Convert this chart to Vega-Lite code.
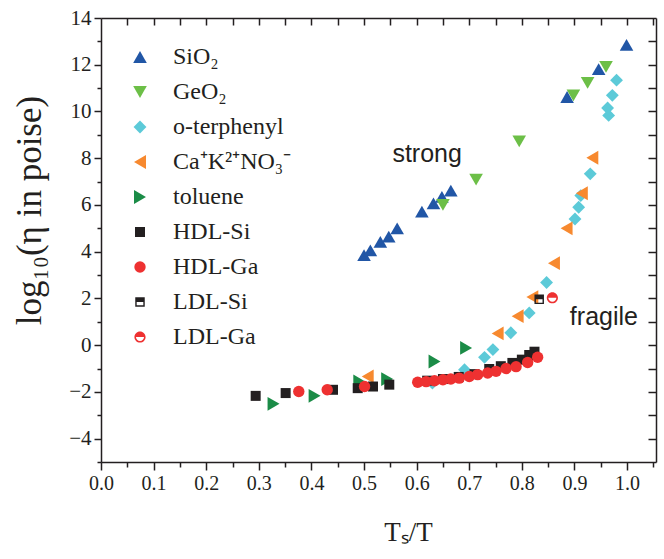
{
  "$schema": "https://vega.github.io/schema/vega-lite/v6.json",
  "autosize": {"type": "none"},
  "padding": {"left": 101, "top": 18, "right": 8, "bottom": 97},
  "width": 555,
  "height": 444,
  "background": "white",
  "config": {
    "view": {"stroke": null},
    "axis": {"grid": false, "domainColor": "#231f20", "tickColor": "#231f20", "labelColor": "#231f20", "titleColor": "#231f20", "labelFont": "Liberation Serif", "titleFont": "Liberation Serif", "titleFontWeight": "normal", "domainWidth": 1.5, "tickWidth": 1.5}
  },
  "datasets": {
    "pts": [
      {"s": "toluene", "x": 0.328, "y": -2.51},
      {"s": "toluene", "x": 0.406, "y": -2.17},
      {"s": "toluene", "x": 0.491, "y": -1.55},
      {"s": "toluene", "x": 0.544, "y": -1.45},
      {"s": "toluene", "x": 0.634, "y": -0.70},
      {"s": "toluene", "x": 0.694, "y": -0.12},
      {"s": "SiO₂", "x": 0.500, "y": 3.85},
      {"s": "SiO₂", "x": 0.512, "y": 4.06},
      {"s": "SiO₂", "x": 0.531, "y": 4.42},
      {"s": "SiO₂", "x": 0.547, "y": 4.64},
      {"s": "SiO₂", "x": 0.563, "y": 5.00},
      {"s": "SiO₂", "x": 0.610, "y": 5.71},
      {"s": "SiO₂", "x": 0.632, "y": 6.07},
      {"s": "SiO₂", "x": 0.648, "y": 6.35},
      {"s": "SiO₂", "x": 0.665, "y": 6.61},
      {"s": "SiO₂", "x": 0.886, "y": 10.62},
      {"s": "SiO₂", "x": 0.946, "y": 11.81},
      {"s": "SiO₂", "x": 0.999, "y": 12.85},
      {"s": "GeO₂", "x": 0.650, "y": 6.0},
      {"s": "GeO₂", "x": 0.713, "y": 7.08},
      {"s": "GeO₂", "x": 0.795, "y": 8.72},
      {"s": "GeO₂", "x": 0.898, "y": 10.69},
      {"s": "GeO₂", "x": 0.925, "y": 11.22},
      {"s": "GeO₂", "x": 0.960, "y": 11.91},
      {"s": "o-terphenyl", "x": 0.630, "y": -1.62},
      {"s": "o-terphenyl", "x": 0.691, "y": -1.05},
      {"s": "o-terphenyl", "x": 0.729, "y": -0.52},
      {"s": "o-terphenyl", "x": 0.745, "y": -0.19},
      {"s": "o-terphenyl", "x": 0.779, "y": 0.53},
      {"s": "o-terphenyl", "x": 0.814, "y": 1.38},
      {"s": "o-terphenyl", "x": 0.847, "y": 2.68},
      {"s": "o-terphenyl", "x": 0.901, "y": 5.40},
      {"s": "o-terphenyl", "x": 0.908, "y": 5.90},
      {"s": "o-terphenyl", "x": 0.912, "y": 6.40},
      {"s": "o-terphenyl", "x": 0.930, "y": 7.33},
      {"s": "o-terphenyl", "x": 0.965, "y": 9.83},
      {"s": "o-terphenyl", "x": 0.963, "y": 10.15},
      {"s": "o-terphenyl", "x": 0.972, "y": 10.69},
      {"s": "o-terphenyl", "x": 0.980, "y": 11.34},
      {"s": "Ca⁺K²⁺NO₃⁻", "x": 0.507, "y": -1.34},
      {"s": "Ca⁺K²⁺NO₃⁻", "x": 0.754, "y": 0.50},
      {"s": "Ca⁺K²⁺NO₃⁻", "x": 0.792, "y": 1.24},
      {"s": "Ca⁺K²⁺NO₃⁻", "x": 0.820, "y": 2.06},
      {"s": "Ca⁺K²⁺NO₃⁻", "x": 0.861, "y": 3.51},
      {"s": "Ca⁺K²⁺NO₃⁻", "x": 0.885, "y": 5.00},
      {"s": "Ca⁺K²⁺NO₃⁻", "x": 0.914, "y": 6.50},
      {"s": "Ca⁺K²⁺NO₃⁻", "x": 0.934, "y": 8.02},
      {"s": "HDL-Si", "x": 0.294, "y": -2.17},
      {"s": "HDL-Si", "x": 0.351, "y": -2.05},
      {"s": "HDL-Si", "x": 0.441, "y": -1.91},
      {"s": "HDL-Si", "x": 0.488, "y": -1.84},
      {"s": "HDL-Si", "x": 0.517, "y": -1.77},
      {"s": "HDL-Si", "x": 0.548, "y": -1.69},
      {"s": "HDL-Si", "x": 0.620, "y": -1.52},
      {"s": "HDL-Si", "x": 0.650, "y": -1.45},
      {"s": "HDL-Si", "x": 0.680, "y": -1.36},
      {"s": "HDL-Si", "x": 0.710, "y": -1.24},
      {"s": "HDL-Si", "x": 0.738, "y": -1.02},
      {"s": "HDL-Si", "x": 0.760, "y": -0.90},
      {"s": "HDL-Si", "x": 0.782, "y": -0.76},
      {"s": "HDL-Si", "x": 0.800, "y": -0.62},
      {"s": "HDL-Si", "x": 0.814, "y": -0.42},
      {"s": "HDL-Si", "x": 0.824, "y": -0.28},
      {"s": "HDL-Ga", "x": 0.376, "y": -1.98},
      {"s": "HDL-Ga", "x": 0.430, "y": -1.91},
      {"s": "HDL-Ga", "x": 0.501, "y": -1.77},
      {"s": "HDL-Ga", "x": 0.602, "y": -1.59},
      {"s": "HDL-Ga", "x": 0.618, "y": -1.56},
      {"s": "HDL-Ga", "x": 0.634, "y": -1.52},
      {"s": "HDL-Ga", "x": 0.650, "y": -1.48},
      {"s": "HDL-Ga", "x": 0.665, "y": -1.45},
      {"s": "HDL-Ga", "x": 0.681, "y": -1.41},
      {"s": "HDL-Ga", "x": 0.700, "y": -1.34},
      {"s": "HDL-Ga", "x": 0.716, "y": -1.26},
      {"s": "HDL-Ga", "x": 0.735, "y": -1.19},
      {"s": "HDL-Ga", "x": 0.751, "y": -1.12},
      {"s": "HDL-Ga", "x": 0.770, "y": -1.00},
      {"s": "HDL-Ga", "x": 0.789, "y": -0.92},
      {"s": "HDL-Ga", "x": 0.811, "y": -0.74},
      {"s": "HDL-Ga", "x": 0.830, "y": -0.52},
      {"s": "LDL-Si", "x": 0.833, "y": 1.96},
      {"s": "LDL-Ga", "x": 0.858, "y": 2.03}
    ],
    "notes": [
      {"t": "strong", "x": 0.62, "y": 8.2},
      {"t": "fragile", "x": 0.956, "y": 1.2}
    ]
  },
  "data": {"name": "pts"},
  "resolve": {"axis": {"x": "independent", "y": "independent"}},
  "layer": [
    {
      "mark": {"type": "point", "filled": true, "opacity": 1, "strokeWidth": 0},
      "encoding": {
        "x": {"field": "x", "type": "quantitative", "scale": {"domain": [0, 1.055], "nice": false, "zero": false},
          "axis": {"orient": "bottom", "values": [0, 0.1, 0.2, 0.3, 0.4, 0.5, 0.6, 0.7, 0.8, 0.9, 1.0], "format": ".1f", "labelFontSize": 20, "tickSize": 8, "labelPadding": 3, "labelOverlap": false, "labelFlush": false,
            "title": "Tₛ/T", "titleFontSize": 27, "titleX": 307, "titleY": 78, "titleBaseline": "alphabetic", "titleAnchor": "middle"}},
        "y": {"field": "y", "type": "quantitative", "scale": {"domain": [-5, 14], "nice": false, "zero": false},
          "axis": {"orient": "left", "values": [-4, -2, 0, 2, 4, 6, 8, 10, 12, 14], "labelFontSize": 21, "tickSize": 7, "labelPadding": 3, "labelOverlap": false, "labelFlush": false,
            "title": "log₁₀(η in poise)", "titleFontSize": 35, "titleX": -61, "titleY": 192, "titleAngle": 270, "titleBaseline": "alphabetic", "titleAnchor": "middle"}},
        "color": {"field": "s", "type": "nominal",
          "scale": {"domain": ["SiO₂", "GeO₂", "o-terphenyl", "Ca⁺K²⁺NO₃⁻", "toluene", "HDL-Si", "HDL-Ga", "LDL-Si", "LDL-Ga"],
            "range": ["#2156a6", "#6cbf47", "#5ccad8", "#f7892f", "#1b8c47", "#231f20", "#ee3131", "#231f20", "#ee3131"]},
          "legend": {"orient": "none", "legendX": 27, "legendY": 27, "title": null, "labelFont": "Liberation Serif", "labelFontSize": 24, "labelColor": "#231f20", "rowPadding": 11, "labelOffset": 21, "padding": 0, "symbolStrokeWidth": 0}},
        "shape": {"field": "s", "type": "nominal",
          "scale": {"domain": ["SiO₂", "GeO₂", "o-terphenyl", "Ca⁺K²⁺NO₃⁻", "toluene", "HDL-Si", "HDL-Ga", "LDL-Si", "LDL-Ga"],
            "range": ["triangle-up", "triangle-down", "diamond", "triangle-left", "triangle-right", "square", "circle",
              "M-1,-1L1,-1L1,0L-1,0Z M-1,0L-1,1L1,1L1,0L0.7,0L0.7,0.7L-0.7,0.7L-0.7,0Z",
              "M-1,0A1,1,0,0,1,1,0Z M1,0A1,1,0,0,1,-1,0L-0.72,0A0.72,0.72,0,0,0,0.72,0Z"]}},
        "size": {"field": "s", "type": "nominal",
          "scale": {"type": "ordinal", "domain": ["SiO₂", "GeO₂", "o-terphenyl", "Ca⁺K²⁺NO₃⁻", "toluene", "HDL-Si", "HDL-Ga", "LDL-Si", "LDL-Ga"],
            "range": [185, 185, 165, 190, 190, 100, 130, 90, 125]}}
      }
    },
    {
      "mark": {"type": "point", "opacity": 0},
      "encoding": {
        "x": {"field": "x", "type": "quantitative", "scale": {"domain": [0, 1.055], "nice": false, "zero": false},
          "axis": {"orient": "bottom", "values": [0.05, 0.15, 0.25, 0.35, 0.45, 0.55, 0.65, 0.75, 0.85, 0.95, 1.05], "labels": false, "domain": false, "tickSize": 5, "title": null}},
        "y": {"field": "y", "type": "quantitative", "scale": {"domain": [-5, 14], "nice": false, "zero": false},
          "axis": {"orient": "left", "values": [-5, -3, -1, 1, 3, 5, 7, 9, 11, 13], "labels": false, "domain": false, "tickSize": 4, "title": null}}
      }
    },
    {
      "mark": {"type": "point", "opacity": 0},
      "encoding": {
        "x": {"field": "x", "type": "quantitative", "scale": {"domain": [0, 1.055], "nice": false, "zero": false},
          "axis": {"orient": "top", "values": [0.05, 0.1, 0.15, 0.2, 0.25, 0.3, 0.35, 0.4, 0.45, 0.5, 0.55, 0.6, 0.65, 0.7, 0.75, 0.8, 0.85, 0.9, 0.95, 1.0, 1.05], "labels": false, "domain": true, "tickSize": -7, "title": null}},
        "y": {"field": "y", "type": "quantitative", "scale": {"domain": [-5, 14], "nice": false, "zero": false},
          "axis": {"orient": "right", "values": [-4, -3, -2, -1, 0, 1, 2, 3, 4, 5, 6, 7, 8, 9, 10, 11, 12, 13], "labels": false, "domain": true, "tickSize": -8, "title": null}}
      }
    },
    {
      "data": {"name": "notes"},
      "mark": {"type": "text", "font": "Liberation Sans", "fontSize": 25, "color": "#231f20", "align": "center", "baseline": "middle"},
      "encoding": {
        "x": {"field": "x", "type": "quantitative", "scale": {"domain": [0, 1.055], "nice": false, "zero": false}, "axis": null},
        "y": {"field": "y", "type": "quantitative", "scale": {"domain": [-5, 14], "nice": false, "zero": false}, "axis": null},
        "text": {"field": "t"}
      }
    }
  ]
}
